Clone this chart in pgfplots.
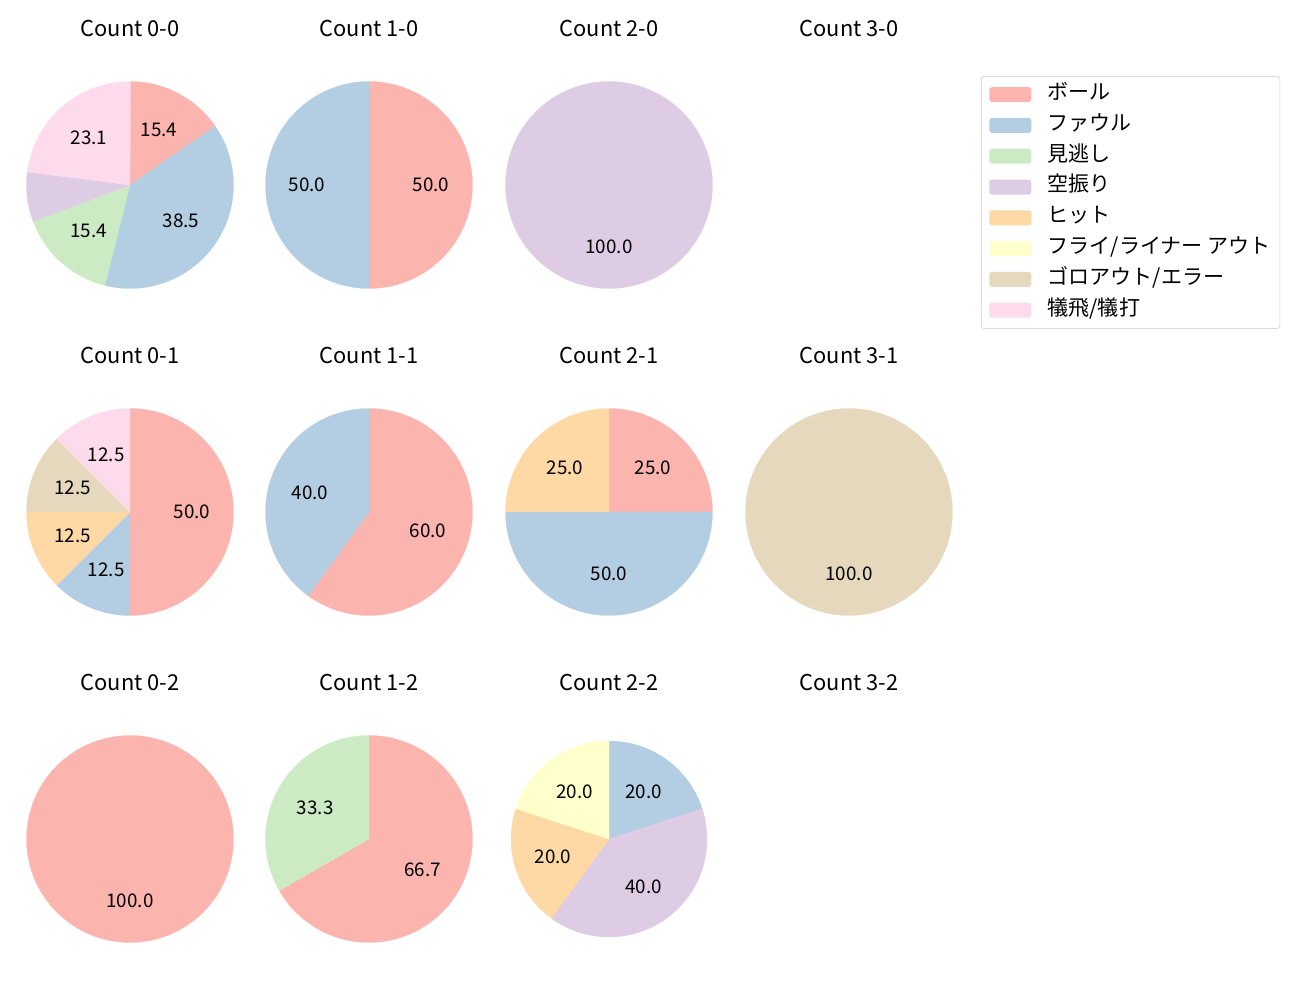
\documentclass[border=0pt]{standalone}
\usepackage{pgfplots}
\pgfplotsset{compat=1.18}
\usepackage{fontspec}
\setmainfont{Noto Sans CJK JP}

\definecolor{c1}{HTML}{FBB4AE}
\definecolor{c2}{HTML}{B3CDE3}
\definecolor{c3}{HTML}{CCEBC5}
\definecolor{c4}{HTML}{DECBE4}
\definecolor{c5}{HTML}{FED9A6}
\definecolor{c6}{HTML}{FFFFCC}
\definecolor{c7}{HTML}{E5D8BD}
\definecolor{c8}{HTML}{FDDAEC}

\newcommand{\labelfont}{\fontsize{13.6}{16}\selectfont}
\newcommand{\titlefont}{\fontsize{15.8}{18}\selectfont}

% one wedge: value (percent), colour, label text; clockwise from the top
\gdef\cum{0}
\newcommand{\slice}[3]{%
  \pgfmathsetmacro\sa{90-3.6*\cum}%
  \pgfmathsetmacro\ea{90-3.6*(\cum+#1)}%
  \pgfmathsetmacro\ma{(\sa+\ea)/2}%
  \pgfmathsetmacro\lx{0.6*cos(\ma)}%
  \pgfmathsetmacro\ly{0.6*sin(\ma)}%
  \edef\doslice{\noexpand\addplot[fill=#2, draw=#2, line width=0.2pt, domain=\ea:\sa, samples=120] ({cos(x)},{sin(x)}) -- (0,0) -- cycle;}%
  \doslice
  \edef\dolabel{\noexpand\node[font=\noexpand\labelfont] at (axis cs:\lx,\ly) {#3};}%
  \dolabel
  \pgfmathsetmacro\newcum{\cum+#1}%
  \xdef\cum{\newcum}%
}

% centre x, centre y (in), diameter (in), title, slices
\newcommand{\pie}[5]{%
  \gdef\cum{0}%
  \begin{axis}[at={(#1in,#2in)}, anchor=center, width=#3in, height=#3in,
    scale only axis, hide axis, clip=false,
    xmin=-1, xmax=1, ymin=-1, ymax=1]
    #5
  \end{axis}
  \node[font=\titlefont] at ([yshift=1.57in]#1in,#2in) {#4};
}

\begin{document}
\begin{tikzpicture}
\path (0,0) rectangle (13in,10in);

\pie{1.30}{8.15}{2.07}{Count 0-0}{%
  \slice{15.4}{c1}{15.4}\slice{38.5}{c2}{38.5}\slice{15.4}{c3}{15.4}%
  \slice{7.7}{c4}{}\slice{23.1}{c8}{23.1}}
\pie{3.69}{8.15}{2.07}{Count 1-0}{%
  \slice{50}{c1}{50.0}\slice{50}{c2}{50.0}}
\pie{6.09}{8.15}{2.07}{Count 2-0}{%
  \slice{100}{c4}{100.0}}
\node[font=\titlefont] at (8.49in,9.72in) {Count 3-0};

\pie{1.30}{4.88}{2.07}{Count 0-1}{%
  \slice{50}{c1}{50.0}\slice{12.5}{c2}{12.5}\slice{12.5}{c5}{12.5}%
  \slice{12.5}{c7}{12.5}\slice{12.5}{c8}{12.5}}
\pie{3.69}{4.88}{2.07}{Count 1-1}{%
  \slice{60}{c1}{60.0}\slice{40}{c2}{40.0}}
\pie{6.09}{4.88}{2.07}{Count 2-1}{%
  \slice{25}{c1}{25.0}\slice{50}{c2}{50.0}\slice{25}{c5}{25.0}}
\pie{8.49}{4.88}{2.07}{Count 3-1}{%
  \slice{100}{c7}{100.0}}

\pie{1.30}{1.61}{2.07}{Count 0-2}{%
  \slice{100}{c1}{100.0}}
\pie{3.69}{1.61}{2.07}{Count 1-2}{%
  \slice{66.7}{c1}{66.7}\slice{33.3}{c3}{33.3}}
\pie{6.09}{1.61}{1.96}{Count 2-2}{%
  \slice{20}{c2}{20.0}\slice{40}{c4}{40.0}\slice{20}{c5}{20.0}\slice{20}{c6}{20.0}}
\node[font=\titlefont] at (8.49in,3.18in) {Count 3-2};

% legend
\begin{axis}[at={(9.81in,9.24in)}, anchor=north west, width=1in, height=1in,
  scale only axis, hide axis, xmin=0, xmax=1, ymin=0, ymax=1,
  legend image code/.code={\fill[#1,draw=none] (0in,-0.075in) rectangle (0.42in,0.075in);},
  legend cell align=left,
  legend style={at={(0,1)}, anchor=north west, draw=black!20, rounded corners=2pt,
    font=\fontsize{15.2}{17}\selectfont, inner xsep=0.08in, inner ysep=0.08in,
    column sep=0.15in, row sep=7.25pt,
    nodes={inner sep=1pt, text height=10pt, text depth=3pt}}]
  \addlegendimage{fill=c1}\addlegendentry{ボール}
  \addlegendimage{fill=c2}\addlegendentry{ファウル}
  \addlegendimage{fill=c3}\addlegendentry{見逃し}
  \addlegendimage{fill=c4}\addlegendentry{空振り}
  \addlegendimage{fill=c5}\addlegendentry{ヒット}
  \addlegendimage{fill=c6}\addlegendentry{フライ/ライナー アウト}
  \addlegendimage{fill=c7}\addlegendentry{ゴロアウト/エラー}
  \addlegendimage{fill=c8}\addlegendentry{犠飛/犠打}
\end{axis}
\end{tikzpicture}
\end{document}
